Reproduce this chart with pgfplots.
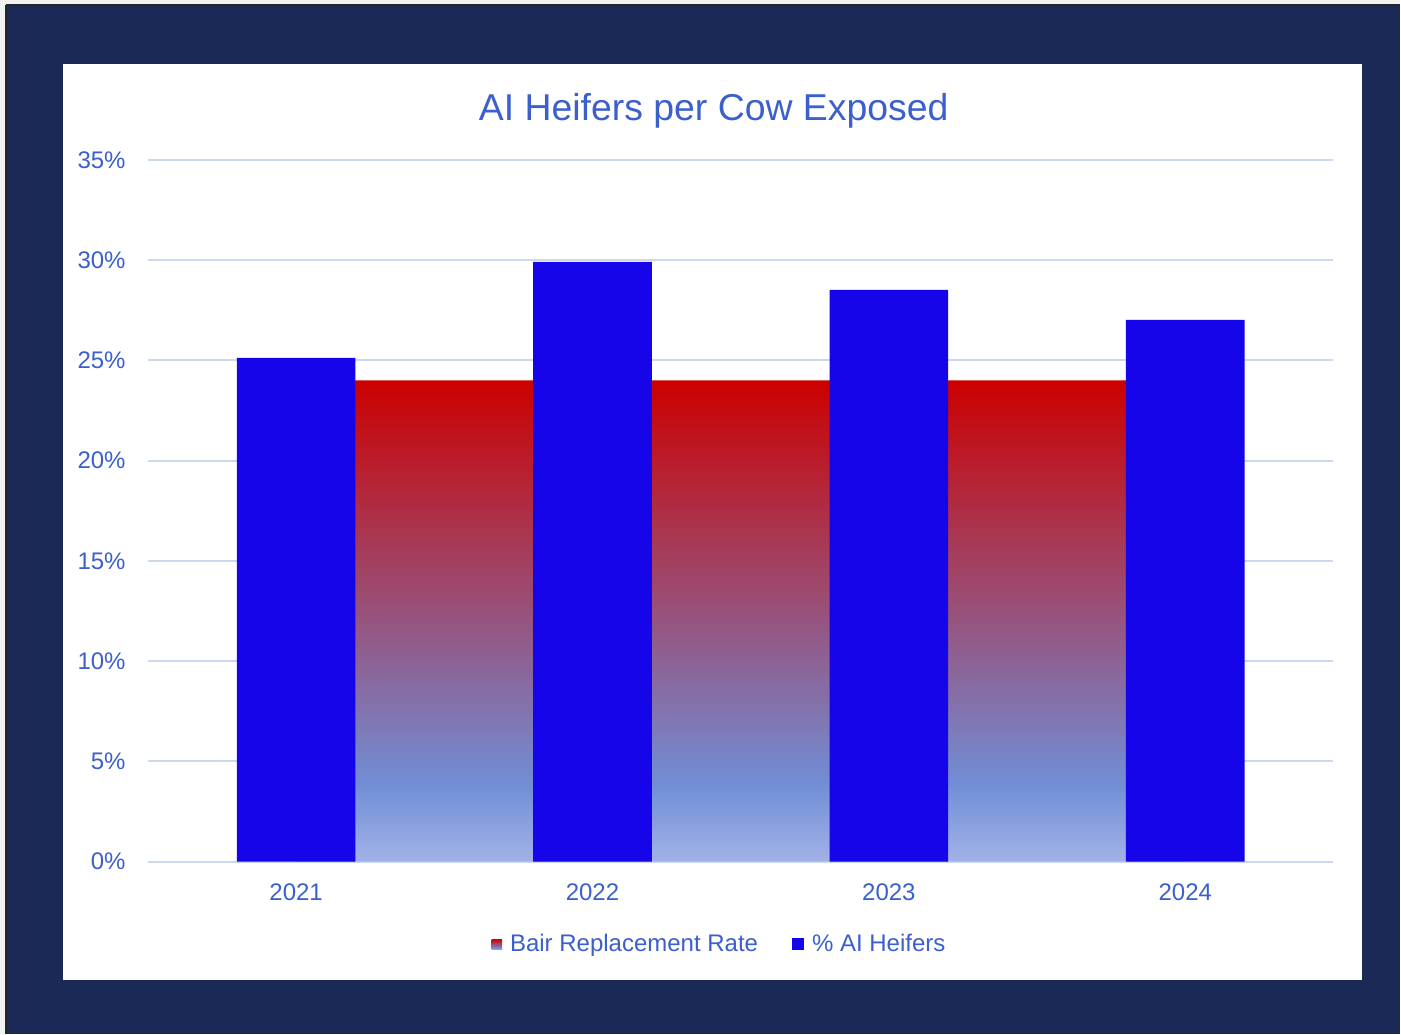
\documentclass[border=0pt]{standalone}
\usepackage{pgfplots}
\pgfplotsset{compat=1.18}
\usepackage{fontspec}
\setmainfont{Liberation Sans}
\definecolor{navy}{RGB}{26,41,86}
\definecolor{txtblue}{RGB}{59,95,205}
\definecolor{barblue}{RGB}{21,5,232}
\definecolor{gridc}{RGB}{205,216,240}
\definecolor{redc}{RGB}{204,0,0}
\definecolor{midb}{RGB}{113,142,214}
\definecolor{lightb}{RGB}{162,178,231}
\pgfdeclareverticalshading{bair}{100bp}{color(0bp)=(lightb); color(25bp)=(lightb); color(33bp)=(midb); color(75bp)=(redc); color(100bp)=(redc)}
\begin{document}
\begin{tikzpicture}
\begin{scope}[x=0.5pt,y=-0.5pt]
\fill[gray!10] (0,0) rectangle (1401,1034);
\fill[navy] (6,5) rectangle (1401,1034);
\draw[black!85, line width=0.6pt] (6,5) -- (1401,5);
\draw[black!85, line width=0.6pt] (6,5) -- (6,1034);
\fill[white] (63,64) rectangle (1363,980);
\node[text=txtblue, font=\fontsize{18.7}{22}\selectfont] at (714,111) {AI Heifers per Cow Exposed};
\end{scope}
\begin{axis}[
  at={(74pt,-431pt)}, anchor=south west,
  scale only axis, width=593pt, height=351pt,
  xmin=-0.5, xmax=3.5, ymin=0, ymax=35,
  axis line style={draw=none},
  major tick length=0pt,
  ymajorgrids, grid style={gridc, line width=1pt},
  ytick={0,5,10,15,20,25,30,35},
  yticklabels={0\%,5\%,10\%,15\%,20\%,25\%,30\%,35\%},
  xtick={0,1,2,3},
  xticklabels={2021,2022,2023,2024},
  ticklabel style={text=txtblue, font=\fontsize{12}{14}\selectfont},
  yticklabel style={anchor=east, inner sep=0pt, xshift=-11pt},
  xticklabel style={anchor=north, inner sep=0pt, yshift=-11pt},
  legend columns=2,
  legend style={at={(0.483,-0.118)}, anchor=center, draw=none, fill=none,
    font=\fontsize{12}{14}\selectfont, text=txtblue,
    /tikz/every odd column/.append style={column sep=2pt},
    /tikz/every even column/.append style={column sep=15pt}},
  legend cell align=left,
]
\addplot[draw=none, shading=bair,
  legend image code/.code={\fill[shading=bair] (0pt,-2.6pt) rectangle (5.2pt,2.6pt);}]
  coordinates {(0,24) (1,24) (2,24) (3,24)} \closedcycle;
\addlegendentry{Bair Replacement Rate}
\addplot[ybar, bar width=0.4, bar shift=0pt, fill=barblue, draw=none,
  legend image code/.code={\fill[barblue] (0pt,-3pt) rectangle (6pt,3pt);}]
  coordinates {(0,25.13) (1,29.91) (2,28.52) (3,27.02)};
\addlegendentry{\% AI Heifers}
\end{axis}
\end{tikzpicture}
\end{document}
